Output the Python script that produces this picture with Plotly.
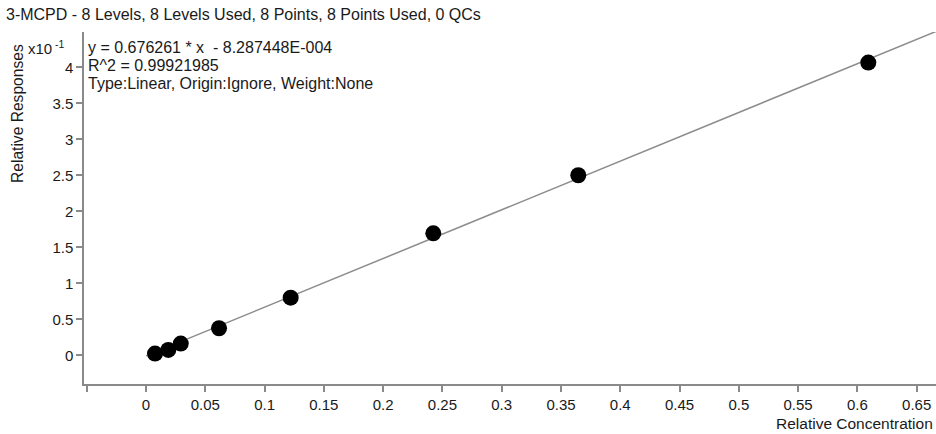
import plotly.graph_objects as go

# ---- data ----
rel_conc = [0.0076, 0.0188, 0.0293, 0.0616, 0.1220, 0.2423, 0.3646, 0.6092]
rel_resp = [0.0024, 0.0074, 0.0163, 0.0375, 0.0800, 0.1694, 0.2500, 0.4065]
slope = 0.676261
intercept = -8.287448e-4
x_tick_vals = [-0.05, 0, 0.05, 0.1, 0.15, 0.2, 0.25, 0.3, 0.35, 0.4, 0.45, 0.5, 0.55, 0.6, 0.65]
x_tick_text = ["", "0", "0.05", "0.1", "0.15", "0.2", "0.25", "0.3", "0.35", "0.4", "0.45", "0.5", "0.55", "0.6", "0.65"]
y_tick_vals = [0, 0.05, 0.1, 0.15, 0.2, 0.25, 0.3, 0.35, 0.4]
y_tick_text = ["0", "0.5", "1", "1.5", "2", "2.5", "3", "3.5", "4"]
x_range = [-0.0523, 0.6663]
y_range = [-0.0399, 0.449]

title_text = "3-MCPD - 8 Levels, 8 Levels Used, 8 Points, 8 Points Used, 0 QCs"
eq_lines = ["y = 0.676261 * x  - 8.287448E-004", "R^2 = 0.99921985",
            "Type:Linear, Origin:Ignore, Weight:None"]

FONT = "Liberation Sans, Arial, sans-serif"
TXT = "#1a1a1a"
AX = "#8a8a8a"

L, T, W, H = 84, 32, 852, 352  # plot area in pixels


def px(x):
    return (x - L) / W


def py(y):
    return 1 - (y - T) / H


fit_x = [0, x_range[1]]
fit_y = [slope * v + intercept for v in fit_x]

fig = go.Figure()
fig.add_trace(go.Scatter(x=fit_x, y=fit_y, mode="lines",
                         line=dict(color="#8c8c8c", width=1.5),
                         hoverinfo="skip", showlegend=False))
fig.add_trace(go.Scatter(x=rel_conc, y=rel_resp, mode="markers",
                         marker=dict(color="black", size=16, line=dict(width=0)),
                         showlegend=False))

fig.update_layout(
    width=936, height=434,
    margin=dict(l=L, r=936 - L - W, t=T, b=434 - T - H),
    plot_bgcolor="white", paper_bgcolor="white",
    font=dict(family=FONT, size=15, color=TXT),
    xaxis=dict(range=x_range, tickvals=x_tick_vals, ticktext=x_tick_text,
               showgrid=False, zeroline=False, showline=True, linecolor=AX,
               linewidth=1.5, ticks="outside", ticklen=6, tickcolor=AX,
               tickwidth=1.5, tickfont=dict(size=15, color=TXT)),
    yaxis=dict(range=y_range, tickvals=y_tick_vals, ticktext=y_tick_text,
               showgrid=False, zeroline=False, showline=True, linecolor=AX,
               linewidth=1.5, ticks="outside", ticklen=6, tickcolor=AX,
               tickwidth=1.5, tickfont=dict(size=15, color=TXT)),
)

fig.add_annotation(text=title_text, xref="paper", yref="paper",
                   x=px(4), y=py(15), xanchor="left", yanchor="middle",
                   showarrow=False, font=dict(size=16, color=TXT))
fig.add_annotation(text="Relative Responses", xref="paper", yref="paper",
                   x=px(18), y=py(114), xanchor="center", yanchor="middle",
                   textangle=-90, showarrow=False, font=dict(size=15.6, color=TXT))
fig.add_annotation(text="x10<sup> -1</sup>", xref="paper", yref="paper",
                   x=px(67), y=py(48), xanchor="right", yanchor="middle",
                   showarrow=False, font=dict(size=15, color=TXT))
for i, line in enumerate(eq_lines):
    fig.add_annotation(text=line, xref="paper", yref="paper",
                       x=px(86), y=py(47 + 18 * i), xanchor="left", yanchor="middle",
                       align="left", showarrow=False, font=dict(size=16, color=TXT))
fig.add_annotation(text="Relative Concentration", xref="paper", yref="paper",
                   x=px(935), y=py(424), xanchor="right", yanchor="middle",
                   showarrow=False, font=dict(size=15.5, color=TXT))

fig.write_html("out.html", config={"displayModeBar": False},
               post_script="document.body.style.margin='0';document.body.style.overflow='hidden';")
